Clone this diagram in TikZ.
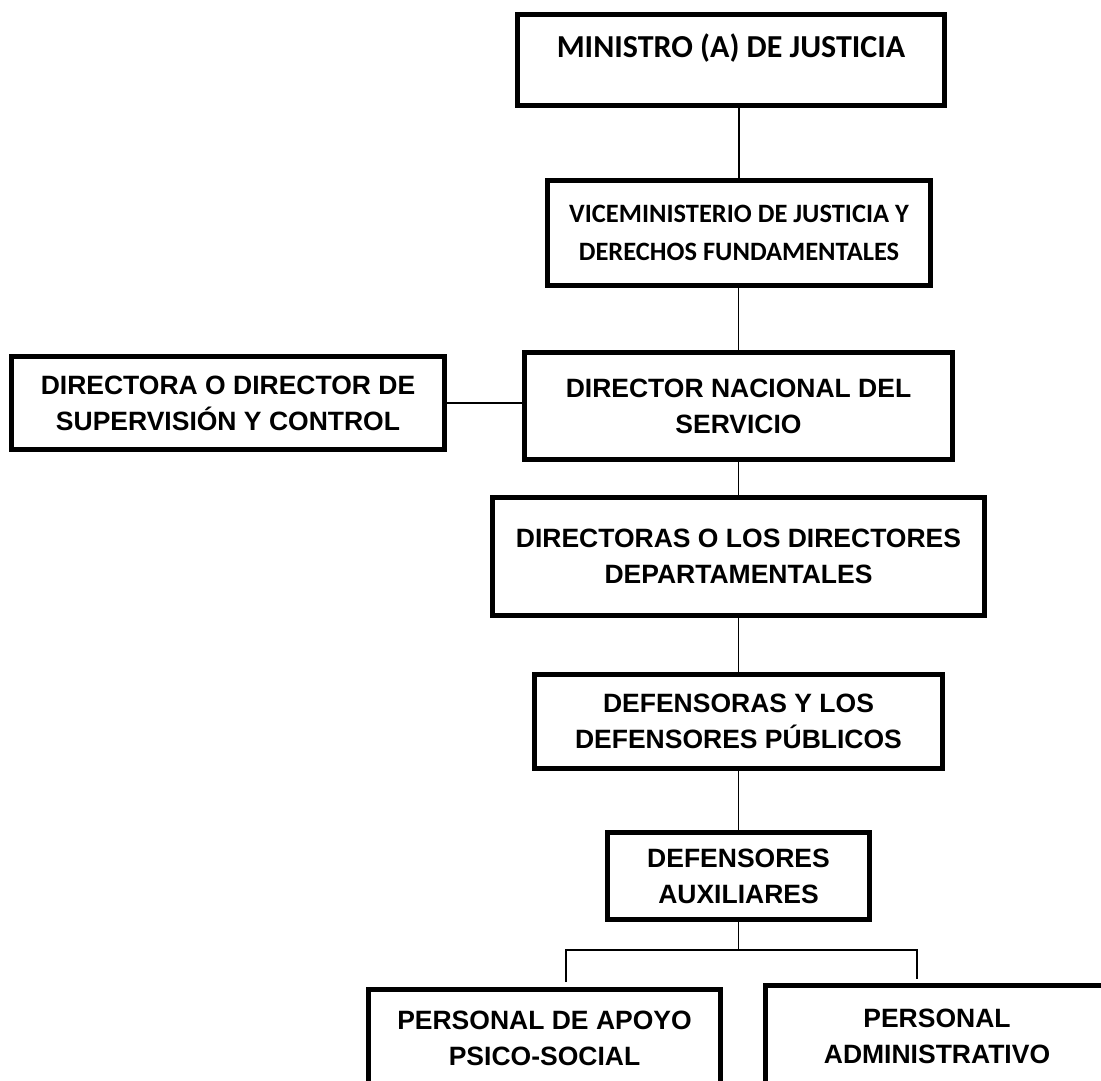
\documentclass[tikz,border=0pt]{standalone}
\usepackage{fontspec}
\setmainfont{Liberation Sans}
\newfontfamily\calibri{Carlito}
\usepackage{tikz}
\usetikzlibrary{positioning}
\tikzstyle{box} = [rectangle, draw, line width=5pt, align=center, inner sep=0pt, font=\bfseries\fontsize{26.5}{36}\selectfont]
\tikzstyle{cbox} = [box, font=\calibri\bfseries\fontsize{26.5}{38}\selectfont]
\tikzstyle{conn} = [line width=1.5pt]

\begin{document}
\begin{tikzpicture}
  \useasboundingbox (0pt,0pt) rectangle (1101pt,-1081pt);
  \clip (0pt,0pt) rectangle (1101pt,-1081pt);
  \draw (731pt,-60pt)node[cbox,minimum width=427pt,minimum height=91pt,text height=15pt,text depth=19pt,font=\calibri\bfseries\fontsize{32}{38}\selectfont](mins){MINISTRO (A) DE JUSTICIA};
  \draw (739pt,-233pt)node[cbox,minimum width=383pt,minimum height=105pt](vice){VICEMINISTERIO DE JUSTICIA Y\\DERECHOS FUNDAMENTALES};
  \draw (738.5pt,-406pt)node[box,minimum width=428pt,minimum height=107pt](dir){DIRECTOR NACIONAL DEL\\SERVICIO};
  \draw (228pt,-403pt)node[box,minimum width=433pt,minimum height=93pt](sup){DIRECTORA O DIRECTOR DE\\SUPERVISIÓN Y CONTROL};
  \draw (738.5pt,-556.5pt)node[box,minimum width=492pt,minimum height=118pt](deps){DIRECTORAS O LOS DIRECTORES\\DEPARTAMENTALES};
  \draw (738.5pt,-721.5pt)node[box,minimum width=408pt,minimum height=94pt](defs){DEFENSORAS Y LOS\\DEFENSORES PÚBLICOS};
  \draw (738.5pt,-876pt)node[box,minimum width=262pt,minimum height=87pt](aux){DEFENSORES\\AUXILIARES};
  \draw (544.5pt,-1038.5pt)node[box,minimum width=352pt,minimum height=98pt](apoyo){PERSONAL DE APOYO\\PSICO-SOCIAL};
  \draw (937pt,-1036.5pt)node[box,minimum width=343pt,minimum height=102pt](admin){PERSONAL\\ADMINISTRATIVO};
  % branch points
  \coordinate (fork) at (738.5pt,-950pt);
  \coordinate (lfork) at (566pt,-950pt);
  \coordinate (rfork) at (917pt,-950pt);
  \coordinate (lend) at (566pt,-982pt);
  \coordinate (rend) at (917pt,-979pt);
  \draw[conn] (vice.north) -- (vice.north |- mins.south);
  \draw[conn] (dir.north) -- (dir.north |- vice.south);
  \draw[conn] (sup.east) -- (sup.east -| dir.west);
  \draw[conn] (deps.north) -- (deps.north |- dir.south);
  \draw[conn] (defs.north) -- (defs.north |- deps.south);
  \draw[conn] (aux.north) -- (aux.north |- defs.south);
  \draw[conn] (aux.south) -- (fork);
  \draw[conn] (lend) -- (lfork) -- (rfork) -- (rend);
\end{tikzpicture}
\end{document}
